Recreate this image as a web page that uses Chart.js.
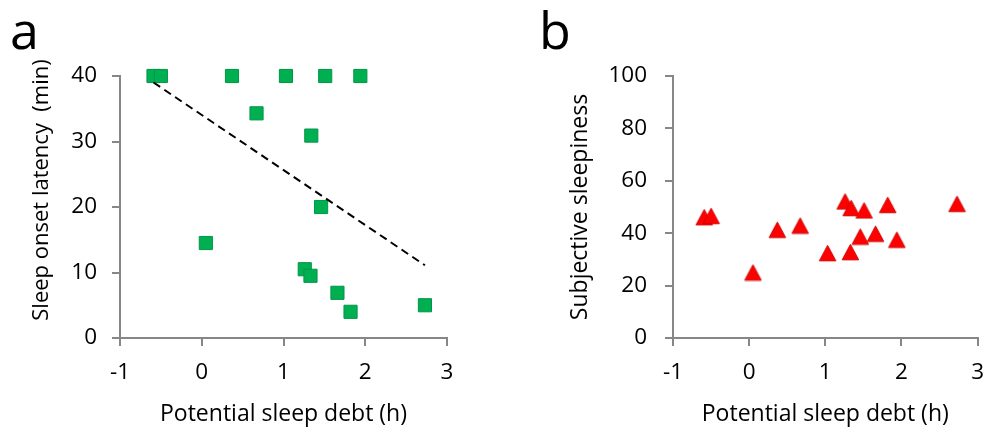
<!DOCTYPE html>
<html>
<head>
<meta charset="utf-8">
<script src="https://cdn.jsdelivr.net/npm/chart.js"></script>
<style>
  html, body { margin: 0; padding: 0; background: #fff; }
  #wrap { position: relative; width: 997px; height: 433px; overflow: hidden; background: #fff; }
  canvas { position: absolute; top: 0; }
  .panel { position: absolute; font-family: "Open Sans", sans-serif; font-size: 52px; line-height: 52px; color: #000; }
</style>
</head>
<body>
<div id="wrap">
  <canvas id="chartA" width="480" height="433" style="left:0px"></canvas>
  <canvas id="chartB" width="497" height="433" style="left:500px"></canvas>
  <div class="panel" style="left:10px; top:3px;">a</div>
  <div class="panel" style="left:539px; top:3px;">b</div>
</div>
<script>
// ---- data ----
const debtHours = [-0.59, -0.50, 0.05, 0.37, 0.67, 1.03, 1.26, 1.33, 1.34, 1.46, 1.51, 1.66, 1.82, 1.94, 2.73];
const onsetLatency = [40, 40, 14.5, 40, 34.3, 40, 10.5, 9.5, 30.9, 20.0, 40, 6.9, 4.0, 40, 5.0];
const sleepiness = [46.1, 46.6, 25.0, 41.3, 42.9, 32.4, 52.1, 32.8, 49.6, 38.7, 48.7, 39.8, 50.8, 37.5, 51.2];
const xTicks = [-1, 0, 1, 2, 3];
const latencyTicks = [0, 10, 20, 30, 40];
const sleepinessTicks = [0, 20, 40, 60, 80, 100];

const pointsA = debtHours.map((x, i) => ({ x: x, y: onsetLatency[i] }));
const pointsB = debtHours.map((x, i) => ({ x: x, y: sleepiness[i] }));

// least-squares trend line for panel a
function fitLine(xs, ys) {
  const n = xs.length;
  const mx = xs.reduce((a, b) => a + b, 0) / n;
  const my = ys.reduce((a, b) => a + b, 0) / n;
  let sxy = 0, sxx = 0;
  for (let i = 0; i < n; i++) { sxy += (xs[i] - mx) * (ys[i] - my); sxx += (xs[i] - mx) ** 2; }
  const slope = sxy / sxx;
  const icpt = my - slope * mx;
  const x0 = Math.min(...xs), x1 = Math.max(...xs);
  return [{ x: x0, y: icpt + slope * x0 }, { x: x1, y: icpt + slope * x1 }];
}
const trendA = fitLine(debtHours, onsetLatency);

const FONT = '"Open Sans", sans-serif';
const FSIZE = 23;
const TSIZE = 22.5;
const AXIS = '#878787';

// triangle marker, centred on its bounding box (as in the reference)
function makeTriangle(w, h) {
  const c = document.createElement('canvas');
  c.width = Math.ceil(w) + 2; c.height = Math.ceil(h) + 2;
  const g = c.getContext('2d');
  const ox = (c.width - w) / 2, oy = (c.height - h) / 2;
  g.beginPath();
  g.moveTo(ox + w / 2, oy);
  g.lineTo(ox + w, oy + h);
  g.lineTo(ox, oy + h);
  g.closePath();
  g.fillStyle = '#FF0000';
  g.fill();
  g.strokeStyle = '#D00000';
  g.lineWidth = 1;
  g.stroke();
  return c;
}
const triMarker = makeTriangle(16.5, 15.5);

// rotated y-axis title drawn at a chosen centre (reference title is not centred on its axis)
const yTitlePlugin = {
  id: 'yTitleAt',
  afterDraw(chart, args, opts) {
    if (!opts || !opts.text) return;
    const ctx = chart.ctx;
    ctx.save();
    ctx.translate(opts.cx, opts.cy);
    ctx.rotate(-Math.PI / 2);
    ctx.font = opts.size + 'px ' + FONT;
    ctx.fillStyle = '#000';
    ctx.textAlign = 'center';
    ctx.textBaseline = 'middle';
    ctx.fillText(opts.text, 0, 0);
    ctx.restore();
  }
};

function makeScales(yTicks, yTitle, yWidth, yTitlePad, yTickPad) {
  return {
    x: {
      type: 'linear',
      min: -1, max: 3,
      afterBuildTicks: s => { s.ticks = xTicks.map(v => ({ value: v })); },
      afterFit: s => { s.height = 95; },
      ticks: { color: '#000', font: { family: FONT, size: TSIZE }, padding: 13 },
      grid: { drawOnChartArea: false, drawTicks: true, tickLength: 8, color: AXIS, lineWidth: 2 },
      border: { display: true, color: AXIS, width: 2 },
      title: { display: true, text: 'Potential sleep debt (h)', color: '#000', font: { family: FONT, size: FSIZE }, padding: { top: 0, bottom: 5 } }
    },
    y: {
      type: 'linear',
      min: yTicks[0], max: yTicks[yTicks.length - 1],
      afterBuildTicks: s => { s.ticks = yTicks.map(v => ({ value: v })); },
      afterFit: s => { s.width = yWidth; },
      ticks: { color: '#000', font: { family: FONT, size: TSIZE }, padding: yTickPad },
      grid: { drawOnChartArea: false, drawTicks: true, tickLength: 8, color: AXIS, lineWidth: 2 },
      border: { display: true, color: AXIS, width: 2 },
      title: { display: !!yTitle, text: yTitle, color: '#000', font: { family: FONT, size: FSIZE }, padding: { top: yTitlePad, bottom: 0 } }
    }
  };
}

new Chart(document.getElementById('chartA'), {
  type: 'scatter',
  plugins: [yTitlePlugin],
  data: {
    datasets: [
      {
        label: 'Trend',
        type: 'line',
        data: trendA,
        borderColor: '#000',
        borderWidth: 2,
        borderDash: [8, 5],
        pointRadius: 0,
        fill: false,
        clip: false,
        order: 0
      },
      {
        label: 'Sleep onset latency',
        data: pointsA,
        pointStyle: 'rect',
        pointRadius: 9.3,
        backgroundColor: '#00B050',
        borderColor: '#00964A',
        borderWidth: 1,
        clip: false,
        order: 1
      }
    ]
  },
  options: {
    responsive: false,
    animation: false,
    devicePixelRatio: 1,
    layout: { padding: { left: 0, top: 76, right: 33, bottom: 0 } },
    plugins: {
      legend: { display: false }, tooltip: { enabled: false },
      yTitleAt: { text: 'Sleep onset latency  (min)', cx: 42, cy: 190, size: 22 }
    },
    scales: makeScales(latencyTicks, '', 120, 0, 15)
  }
});

new Chart(document.getElementById('chartB'), {
  type: 'scatter',
  data: {
    datasets: [
      {
        label: 'Subjective sleepiness',
        data: pointsB,
        pointStyle: triMarker,
        pointRadius: 9,
        clip: false
      }
    ]
  },
  options: {
    responsive: false,
    animation: false,
    devicePixelRatio: 1,
    layout: { padding: { left: 0, top: 76, right: 10, bottom: 0 } },
    plugins: { legend: { display: false }, tooltip: { enabled: false } },
    scales: makeScales(sleepinessTicks, 'Subjective sleepiness', 173, 67, 18)
  }
});
</script>
</body>
</html>
